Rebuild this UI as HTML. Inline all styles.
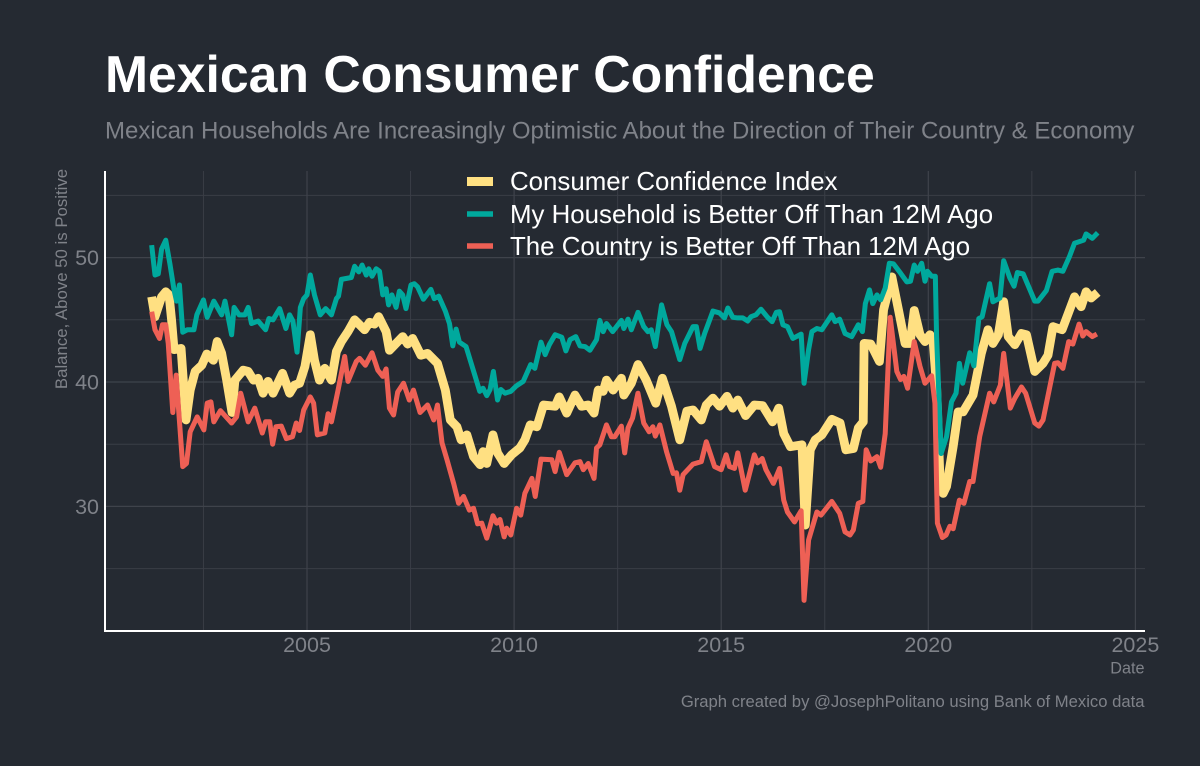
<!DOCTYPE html>
<html lang="en">
<head>
<meta charset="utf-8">
<title>Mexican Consumer Confidence</title>
<style>
html,body{margin:0;padding:0;background:#252a32;width:1200px;height:766px;overflow:hidden}
svg{display:block}
text{font-family:"Liberation Sans",Arial,sans-serif}
</style>
</head>
<body>
<svg id="chart" xmlns="http://www.w3.org/2000/svg" width="1200" height="766" viewBox="0 0 1200 766">
  <rect x="0" y="0" width="1200" height="766" fill="#252a32"/>
  <text x="105" y="92" font-size="51.7" font-weight="700" fill="#ffffff">Mexican Consumer Confidence</text>
  <text x="105" y="138.5" font-size="24" fill="#7f8289">Mexican Households Are Increasingly Optimistic About the Direction of Their Country &amp; Economy</text>
  <g id="grid"></g>
  <g id="series"></g>
  <g id="axes"></g>
  <text transform="translate(67,279) rotate(-90)" text-anchor="middle" font-size="16.8" fill="#7f8289">Balance, Above 50 is Positive</text>
  <text x="1144.5" y="673.5" text-anchor="end" font-size="16.2" fill="#7f8289">Date</text>
  <text x="1144.5" y="707" text-anchor="end" font-size="16.65" fill="#7f8289">Graph created by @JosephPolitano using Bank of Mexico data</text>
  <g>
    <g>
      <line x1="467" x2="493" y1="181.5" y2="181.5" stroke="#ffe082" stroke-width="9"/>
      <text x="510" y="190" font-size="25.85" fill="#ffffff">Consumer Confidence Index</text>
    </g>
    <g>
      <line x1="467" x2="493" y1="214" y2="214" stroke="#00a99d" stroke-width="5.5"/>
      <text x="510" y="223" font-size="25.85" fill="#ffffff">My Household is Better Off Than 12M Ago</text>
    </g>
    <g>
      <line x1="467" x2="493" y1="246" y2="246" stroke="#ee6055" stroke-width="5.5"/>
      <text x="510" y="255" font-size="25.85" fill="#ffffff">The Country is Better Off Than 12M Ago</text>
    </g>
  </g>
</svg>
<script>
const xTickLabels = [2005, 2010, 2015, 2020, 2025];
const xMinorTicks = [2002.5, 2007.5, 2012.5, 2017.5, 2022.5];
const yTickLabels = [30, 40, 50];
const yMinorTicks = [25, 35, 45, 55];

const indexDates = [2001.25,2001.33,2001.49,2001.59,2001.67,2001.73,2001.79,2001.96,2002.08,2002.18,2002.3,2002.46,2002.58,2002.74,2002.83,2002.94,2003.06,2003.19,2003.26,2003.46,2003.58,2003.71,2003.82,2003.94,2004.06,2004.18,2004.41,2004.58,2004.7,2004.82,2004.95,2005.08,2005.18,2005.3,2005.43,2005.59,2005.71,2005.83,2005.99,2006.15,2006.39,2006.51,2006.63,2006.73,2006.91,2006.99,2007.31,2007.43,2007.55,2007.75,2007.91,2008.15,2008.34,2008.46,2008.62,2008.72,2008.86,2009.02,2009.18,2009.25,2009.34,2009.49,2009.6,2009.76,2009.94,2010.14,2010.26,2010.39,2010.55,2010.71,2010.99,2011.09,2011.27,2011.47,2011.63,2011.79,2011.93,2012.03,2012.15,2012.23,2012.39,2012.59,2012.65,2012.83,2012.99,2013.19,2013.42,2013.58,2013.8,2014.0,2014.17,2014.32,2014.52,2014.64,2014.8,2014.96,2015.14,2015.28,2015.4,2015.59,2015.8,2016.0,2016.24,2016.39,2016.51,2016.67,2016.95,2017.03,2017.15,2017.27,2017.43,2017.67,2017.87,2018.01,2018.19,2018.31,2018.43,2018.45,2018.61,2018.82,2018.92,2019.12,2019.28,2019.44,2019.56,2019.66,2019.8,2019.92,2020.04,2020.12,2020.2,2020.28,2020.36,2020.44,2020.6,2020.72,2020.84,2021.08,2021.28,2021.44,2021.56,2021.69,2021.82,2021.93,2022.09,2022.25,2022.37,2022.57,2022.77,2022.89,2023.01,2023.23,2023.53,2023.69,2023.81,2023.93,2024.09];
const indexValues = [46.85,45.25,46.85,47.25,47,45,42.6,42.7,36.95,39.35,40.85,41.35,42.25,41.75,43.25,42.3,40.15,37.55,40.15,40.95,40.85,40.15,40.3,39.1,40.05,39.1,40.7,39.1,39.75,39.9,41.25,43.8,41.75,40.15,41.1,40.15,42.45,43.25,44.05,45,44.2,44.8,44.65,45.25,44.05,42.55,43.65,43.05,43.5,42.15,42.3,41.5,39.35,36.95,36.4,35.35,35.75,34,33.35,34.4,33.45,35.75,34.3,33.45,34.15,34.7,35.35,36.55,36.4,38.15,38.05,38.8,37.5,38.95,38.05,38.15,37.5,39.35,39.25,40.15,39.35,40.3,38.95,39.9,41.4,40.15,38.3,40.3,38.05,35.35,37.65,37.75,36.95,38.15,38.7,38.05,38.85,37.9,38.55,37.3,38.15,38.1,36.8,37.9,35.85,34.8,34.95,28.5,34.55,35.35,35.75,37,36.7,34.55,34.65,36.3,36.8,43.1,43.05,41.65,45.8,48.45,45.8,43.1,43.1,45.75,43.8,43.25,43.8,43.1,39.6,32.4,31.05,31.6,34.8,37.6,37.6,38.95,42.3,44.2,43.1,43.8,46.45,43.65,43,43.9,43.8,40.85,41.5,42.15,44.45,44.2,46.85,46.05,47.25,46.75,47.2];

const householdDates = [2001.25,2001.33,2001.41,2001.49,2001.59,2001.69,2001.79,2001.85,2001.92,2002.0,2002.11,2002.27,2002.34,2002.5,2002.59,2002.75,2002.94,2003.02,2003.18,2003.24,2003.36,2003.5,2003.58,2003.66,2003.82,2004.0,2004.08,2004.18,2004.34,2004.49,2004.58,2004.66,2004.76,2004.84,2004.92,2005.0,2005.08,2005.18,2005.32,2005.45,2005.59,2005.71,2005.76,2005.83,2006.07,2006.15,2006.25,2006.33,2006.43,2006.49,2006.57,2006.67,2006.75,2006.83,2006.91,2006.97,2007.05,2007.15,2007.23,2007.31,2007.39,2007.51,2007.59,2007.67,2007.81,2007.99,2008.07,2008.18,2008.34,2008.44,2008.52,2008.6,2008.68,2008.84,2009.06,2009.17,2009.25,2009.34,2009.42,2009.5,2009.6,2009.68,2009.78,2009.92,2010.06,2010.22,2010.4,2010.5,2010.65,2010.75,2010.85,2010.99,2011.15,2011.25,2011.35,2011.49,2011.59,2011.71,2011.83,2011.99,2012.07,2012.15,2012.23,2012.38,2012.59,2012.65,2012.75,2012.83,2012.99,2013.13,2013.23,2013.31,2013.41,2013.56,2013.69,2013.8,2014.0,2014.12,2014.32,2014.4,2014.49,2014.6,2014.8,2014.96,2015.08,2015.16,2015.28,2015.4,2015.52,2015.64,2015.72,2015.84,2015.96,2016.12,2016.23,2016.33,2016.41,2016.49,2016.6,2016.73,2016.93,2017.0,2017.11,2017.19,2017.31,2017.43,2017.67,2017.75,2017.86,2017.99,2018.15,2018.31,2018.41,2018.48,2018.58,2018.66,2018.76,2018.85,2018.96,2019.06,2019.16,2019.33,2019.48,2019.57,2019.66,2019.74,2019.84,2019.92,2019.98,2020.08,2020.17,2020.2,2020.31,2020.44,2020.56,2020.67,2020.75,2020.83,2021.0,2021.1,2021.22,2021.3,2021.48,2021.56,2021.73,2021.82,2021.97,2022.07,2022.15,2022.29,2022.57,2022.65,2022.85,2022.99,2023.13,2023.25,2023.41,2023.53,2023.75,2023.81,2023.96,2024.09];
const householdValues = [51,48.6,48.7,50.7,51.4,49.5,47.4,46.5,47.8,44,44.2,44.2,45.4,46.6,45.2,46.5,45.4,46.5,43.8,46,45.4,45.4,46,44.7,44.9,44.2,45.1,45,45.9,44.3,45.4,44.9,42.4,46,46.7,47,48.6,47,45.4,45.9,45.4,46.7,46.9,48.25,48.4,49.3,48.85,49.4,48.6,49.1,48.5,49.1,48.9,47,47.5,46.2,47,46,47.3,47,45.9,47.8,47.9,47.65,46.65,47.45,46.7,46.9,45.7,44.7,42.9,44.25,43.2,42.85,40.45,39.25,39.5,38.9,39.4,40.85,38.55,39.4,39.1,39.25,39.7,40.05,41.4,41.1,43.2,42.2,43,43.8,43.6,42.5,43.4,43.65,42.9,42.85,42.55,43.4,44.95,44.05,44.7,44.05,44.95,44.3,45.05,44.2,45.6,44.45,44.05,44.2,42.85,46.2,44.6,44.05,41.8,43.1,44.45,44.45,42.7,43.9,45.7,45.55,45.15,45.95,45.2,45.15,45.15,44.9,45.25,45.4,45.85,45.2,44.85,45.6,45.65,44.6,44.45,43.5,43.85,39.9,42.6,44.05,44.3,44.2,45.4,44.85,45.05,43.9,43.65,44.6,44.05,46.3,47.4,46.3,47,46.6,47.55,49.55,49.5,48.75,48.05,48.1,49.4,48.9,49.55,48.1,48.9,48.5,48.5,43.65,34.25,35.6,38.4,39.1,41.5,39.9,42.35,41.3,45.1,45.25,47.9,46.45,46.75,49.75,48.35,47.7,48.8,48.7,46.5,46.5,47.35,48.9,49,48.9,50.1,51.15,51.4,51.9,51.55,52];

const countryDates = [2001.25,2001.33,2001.44,2001.51,2001.59,2001.65,2001.76,2001.84,2002.0,2002.09,2002.18,2002.35,2002.51,2002.59,2002.68,2002.75,2002.91,2003.18,2003.3,2003.4,2003.58,2003.74,2003.92,2004.0,2004.1,2004.17,2004.25,2004.38,2004.5,2004.65,2004.74,2004.82,2004.92,2005.08,2005.16,2005.25,2005.43,2005.51,2005.59,2005.75,2005.91,2005.99,2006.19,2006.27,2006.41,2006.57,2006.71,2006.83,2006.91,2006.99,2007.09,2007.19,2007.33,2007.47,2007.57,2007.73,2007.91,2008.06,2008.15,2008.26,2008.38,2008.54,2008.66,2008.78,2008.92,2009.02,2009.12,2009.22,2009.34,2009.49,2009.58,2009.66,2009.76,2009.82,2009.92,2010.06,2010.16,2010.26,2010.43,2010.51,2010.65,2010.91,2010.99,2011.09,2011.27,2011.47,2011.59,2011.67,2011.79,2011.93,2011.99,2012.07,2012.23,2012.35,2012.43,2012.59,2012.67,2012.75,2012.86,2012.99,2013.13,2013.26,2013.35,2013.41,2013.52,2013.68,2013.84,2013.92,2014.0,2014.08,2014.32,2014.52,2014.64,2014.84,2015.0,2015.12,2015.2,2015.32,2015.4,2015.58,2015.8,2015.88,2015.99,2016.08,2016.26,2016.41,2016.51,2016.6,2016.77,2016.93,2017.0,2017.11,2017.31,2017.41,2017.67,2017.86,2017.99,2018.11,2018.19,2018.31,2018.42,2018.5,2018.61,2018.76,2018.85,2018.96,2019.08,2019.24,2019.33,2019.41,2019.5,2019.66,2019.8,2019.92,2020.08,2020.16,2020.22,2020.34,2020.43,2020.52,2020.6,2020.75,2020.86,2021.0,2021.08,2021.24,2021.48,2021.58,2021.74,2021.82,2021.98,2022.09,2022.25,2022.35,2022.57,2022.67,2022.77,2023.05,2023.13,2023.25,2023.39,2023.49,2023.64,2023.73,2023.81,2023.96,2024.07];
const countryValues = [45.65,44.2,43.5,44.6,44.6,43.1,37.55,40.55,33.2,33.45,36,37.2,36.15,38.3,38.4,36.8,37.7,36.7,37.2,39.1,36.8,37.9,35.9,36.8,36.8,35,36.4,36.45,35.45,35.6,36.7,36.1,37.75,38.8,38.3,35.75,35.9,37.45,36.8,39.35,42.05,40.05,41.65,41.9,41.35,42.35,40.95,40.45,41.05,37.9,37.35,39.2,39.9,38.55,39.35,37.55,38.15,36.95,38.15,35.1,33.75,31.85,30.25,30.8,29.7,29.85,28.6,28.65,27.45,29.25,28.65,28.95,27.55,28.25,27.7,29.85,29.3,31.05,32.25,30.8,33.8,33.75,32.8,34.35,32.55,33.5,33.6,32.95,33.45,32.25,34.7,34.95,36.55,35.6,35.6,36.45,34.3,36.3,37.1,39.1,36.7,36,36.4,35.65,36.55,34.4,32.65,32.7,31.3,32.55,33.4,33.6,35.2,33.2,32.95,34.15,33.2,33.05,34.3,31.3,34.15,33.5,33.85,32.95,31.85,33.05,30.5,29.55,28.75,29.65,22.45,27.3,29.55,29.3,30.4,29.45,27.95,27.7,28.1,30.25,30.4,34.55,33.65,34,33.15,35.85,45.2,40.85,40.2,40.45,39.5,43.25,41.25,39.9,40.5,38.3,28.65,27.5,27.7,28.4,28.2,30.5,30.25,32,32,35.6,39.1,38.4,39.75,42.3,37.9,38.7,39.6,39.1,36.7,36.45,36.95,41.5,41.55,41.1,43.25,43.05,44.65,43.7,44.05,43.65,43.85];

const NS = 'http://www.w3.org/2000/svg';
const PLOT_LEFT = 105, PLOT_RIGHT = 1145, PLOT_TOP = 171, PLOT_BOTTOM = 631;

function xScale(year) { return 307 + (year - 2005) * 41.42; }
function yScale(value) { return 382 - (value - 40) * 12.44; }

function makeLine(parent, x1, y1, x2, y2, stroke, width) {
  const el = document.createElementNS(NS, 'line');
  el.setAttribute('x1', x1);
  el.setAttribute('y1', y1);
  el.setAttribute('x2', x2);
  el.setAttribute('y2', y2);
  el.setAttribute('stroke', stroke);
  el.setAttribute('stroke-width', width);
  parent.appendChild(el);
  return el;
}
function makeText(parent, x, y, anchor, content) {
  const el = document.createElementNS(NS, 'text');
  el.setAttribute('x', x);
  el.setAttribute('y', y);
  el.setAttribute('text-anchor', anchor);
  el.setAttribute('font-size', '21.5');
  el.setAttribute('fill', '#7f8289');
  el.textContent = content;
  parent.appendChild(el);
  return el;
}
function drawSeries(parent, dates, values, color, width) {
  const el = document.createElementNS(NS, 'path');
  const d = dates.map((date, i) => (i ? 'L' : 'M') + xScale(date).toFixed(2) + ' ' + yScale(values[i]).toFixed(2)).join('');
  el.setAttribute('d', d);
  el.setAttribute('fill', 'none');
  el.setAttribute('stroke', color);
  el.setAttribute('stroke-width', width);
  el.setAttribute('stroke-linejoin', 'round');
  el.setAttribute('stroke-linecap', 'butt');
  parent.appendChild(el);
  return el;
}

const grid = document.getElementById('grid');
const axes = document.getElementById('axes');
const seriesGroup = document.getElementById('series');

yMinorTicks.forEach(v => {
  const g = makeLine(grid, PLOT_LEFT, yScale(v), PLOT_RIGHT, yScale(v), '#3a3e46', 1);
  
  
});
xMinorTicks.forEach(v => {
  const g = makeLine(grid, xScale(v), PLOT_TOP, xScale(v), PLOT_BOTTOM, '#3a3e46', 1);
  
  
});
yTickLabels.forEach(v => {
  const g = makeLine(grid, PLOT_LEFT, yScale(v), PLOT_RIGHT, yScale(v), '#3f434b', 1.2);
  
  
  const t = makeText(axes, 99, yScale(v) + 7.5, 'end', String(v));
  
  
});
xTickLabels.forEach(v => {
  const g = makeLine(grid, xScale(v), PLOT_TOP, xScale(v), PLOT_BOTTOM, '#3f434b', 1.2);
  
  
  const t = makeText(axes, xScale(v), 652, 'middle', String(v));
  
  
});

const yAxisLine = makeLine(axes, PLOT_LEFT, PLOT_TOP, PLOT_LEFT, PLOT_BOTTOM + 1, '#ffffff', 2);


const xAxisLine = makeLine(axes, PLOT_LEFT, PLOT_BOTTOM, PLOT_RIGHT, PLOT_BOTTOM, '#ffffff', 2);



const indexLine = drawSeries(seriesGroup, indexDates, indexValues, '#ffe082', 8.8);


const householdLine = drawSeries(seriesGroup, householdDates, householdValues, '#00a99d', 5);


const countryLine = drawSeries(seriesGroup, countryDates, countryValues, '#ee6055', 5);


</script>
</body>
</html>
